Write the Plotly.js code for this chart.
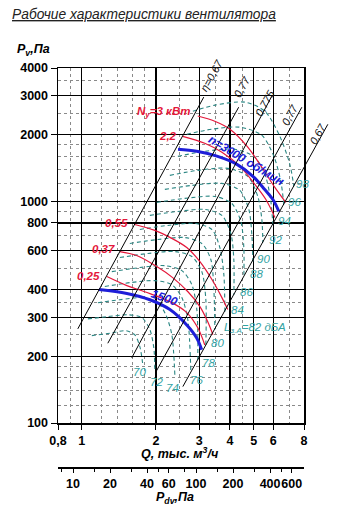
<!DOCTYPE html>
<html><head><meta charset="utf-8">
<script src="https://cdn.plot.ly/plotly-3.0.1.min.js"></script>
<style>body{margin:0;background:#fff}#chart{width:346px;height:512px}</style>
</head><body><div id="chart"></div>
<script>
// ---------- axes / ticks ----------
const QTICK = [0.8, 1, 2, 3, 4, 5, 6, 8];
const QTEXT = ['0,8', '1', '2', '3', '4', '5', '6', '8'];
const QMINOR = [0.9, 1.2, 1.4, 1.6, 1.8, 2.5, 3.5, 4.5, 7];
const PTICK = [100, 200, 300, 400, 600, 800, 1000, 2000, 3000, 4000];
const PMINOR = [120, 140, 160, 180, 250, 350, 500, 700, 900, 1200, 1400, 1600, 1800, 2500, 3500];
const PDVTICK = [10, 20, 40, 60, 100, 200, 400, 600];
const PDVMINOR = [8, 15, 30, 50, 80, 150, 300, 500];
const PDV_PER_Q2 = 11.8; // Pdv = k*Q^2 relation of second scale

// ---------- fan curves ----------
const N3000_Q = [2.46, 2.93, 3.54, 4.27, 4.96, 5.54, 5.98, 6.32];
const N3000_P = [1718, 1683, 1600, 1469, 1297, 1132, 1020, 902];
const N1500_Q = [1.173, 1.524, 1.89, 2.28, 2.67, 2.93, 3.07];
const N1500_P = [400, 384, 360, 325, 277, 242, 214];

// ---------- power lines ----------
const PW3_Q = [2.96, 3.47, 4.0, 4.69, 5.39, 6.09, 6.75];
const PW3_P = [2428, 2300, 2117, 1775, 1426, 1157, 989];
const PW22_Q = [2.57, 3.16, 3.71, 4.39, 5.05, 5.60, 6.09];
const PW22_P = [1967, 1830, 1666, 1440, 1194, 1020, 847];
const PW055_Q = [1.64, 1.98, 2.28, 2.67, 3.02, 3.38, 3.71, 3.92];
const PW055_P = [787, 740, 688, 619, 535, 444, 368, 325];
const PW037_Q = [1.427, 1.67, 2.016, 2.34, 2.70, 3.02, 3.25, 3.41];
const PW037_P = [594, 570, 508, 453, 391, 335, 286, 250];
const PW025_Q = [1.264, 1.524, 1.80, 2.28, 2.67, 2.96, 3.16];
const PW025_P = [458, 417, 391, 353, 315, 269, 225];
const PW_TEXT = ['N<sub>у</sub>=3 кВт', '2,2', '0,55', '0,37', '0,25'];
const PW_LQ = [2.80, 2.48, 1.567, 1.388, 1.206];
const PW_LP = [2527, 1968, 795, 607, 463];

// ---------- efficiency lines (start / end) ----------
const ETA_Q0 = [0.963, 1.275, 1.596, 2.0, 2.574];
const ETA_P0 = [266, 229, 197, 170, 146];
const ETA_Q1 = [3.13, 4.34, 5.92, 7.84, 10.0];
const ETA_P1 = [2955, 2661, 2986, 2661, 2228];
const ETA_TEXT = ['η=0,67', '0,77', '0,775', '0,77', '0,67'];
const ETA_LQ = [3.377, 4.47, 5.546, 7.006, 9.106];
const ETA_LP = [3715, 3280, 2776, 2449, 2010];

// ---------- noise contours L (dBA) ----------
const L70_Q = [1.098, 1.324, 1.510, 1.642, 1.721, 1.770];
const L70_P = [248, 255, 261, 250, 221, 183];
const L72_Q = [1.058, 1.276, 1.538, 1.754, 1.890, 1.962, 1.980];
const L72_P = [295, 302, 308, 299, 264, 218, 174];
const L74_Q = [1.162, 1.427, 1.754, 2.018, 2.195, 2.322, 2.388];
const L74_P = [349, 360, 368, 353, 308, 250, 165];
const L76_Q = [1.240, 1.567, 1.980, 2.322, 2.550, 2.697, 2.774];
const L76_P = [413, 430, 439, 421, 368, 292, 170];
const L78_Q = [1.324, 1.721, 2.175, 2.550, 2.800, 2.934, 2.961];
const L78_P = [482, 503, 513, 487, 421, 325, 193];
const L80_Q = [1.427, 1.855, 2.388, 2.800, 3.074, 3.192, 3.192];
const L80_P = [558, 582, 594, 564, 482, 360, 225];
const L82_Q = [1.567, 2.037, 2.623, 3.074, 3.345, 3.441, 3.473];
const L82_P = [646, 673, 687, 646, 547, 400, 264];
const L84_Q = [1.721, 2.236, 2.879, 3.377, 3.639, 3.778, 3.814];
const L84_P = [747, 779, 795, 747, 619, 468, 318];
const L86_Q = [1.890, 2.456, 3.162, 3.708, 4.034, 4.148, 4.148];
const L86_P = [865, 901, 920, 865, 716, 547, 379];
const L88_Q = [2.018, 2.623, 3.473, 4.072, 4.429, 4.555, 4.555];
const L88_P = [990, 1032, 1053, 979, 812, 619, 453];
const L90_Q = [2.175, 2.800, 3.708, 4.388, 4.774, 4.910, 4.956];
const L90_P = [1133, 1181, 1206, 1121, 920, 709, 535];
const L92_Q = [2.279, 2.961, 3.922, 4.729, 5.193, 5.392, 5.443];
const L92_P = [1311, 1381, 1410, 1297, 1053, 829, 652];
const L94_Q = [2.456, 3.162, 4.188, 5.049, 5.597, 5.866, 5.976];
const L94_P = [1598, 1683, 1719, 1582, 1284, 1000, 787];
const L96_Q = [2.672, 3.377, 4.388, 5.392, 6.033, 6.440, 6.623];
const L96_P = [2010, 2118, 2162, 1989, 1598, 1232, 969];
const L98_Q = [2.827, 3.473, 4.598, 5.546, 6.381, 7.006, 7.276];
const L98_P = [2554, 2719, 2805, 2554, 1968, 1470, 1169];
const L_TEXT = ['70', '72', '74', '76', '78', '80', 'L<sub>з.А</sub>=82 дБА', '84', '86', '88', '90', '92', '94', '96', '98'];
const L_LQ = [1.721, 2.018, 2.344, 2.934, 3.282, 3.571, 3.708, 4.306, 4.69, 5.145, 5.49, 6.15, 6.69, 7.34, 7.91];
const L_LP = [170, 153, 144, 157, 187, 230, 269, 325, 392, 468, 547, 673, 812, 990, 1194];

// ---------- build ----------
const FONT = 'Liberation Sans, Arial, sans-serif';
const RED = '#e4173a', BLUE = '#1e1ed8', TEAL = '#2a8683', TEALT = '#33a3a3';
const traces = [];
const noise = [[L70_Q,L70_P],[L72_Q,L72_P],[L74_Q,L74_P],[L76_Q,L76_P],[L78_Q,L78_P],[L80_Q,L80_P],[L82_Q,L82_P],[L84_Q,L84_P],[L86_Q,L86_P],[L88_Q,L88_P],[L90_Q,L90_P],[L92_Q,L92_P],[L94_Q,L94_P],[L96_Q,L96_P],[L98_Q,L98_P]];
noise.forEach(([q,p]) => traces.push({x:q, y:p, mode:'lines', line:{color:TEAL, width:1.1, dash:'4px,3px', shape:'spline', smoothing:0.8}, hoverinfo:'skip'}));
[[PW3_Q,PW3_P],[PW22_Q,PW22_P],[PW055_Q,PW055_P],[PW037_Q,PW037_P],[PW025_Q,PW025_P]].forEach(([q,p]) =>
  traces.push({x:q, y:p, mode:'lines', line:{color:RED, width:1.2, shape:'spline'}, hoverinfo:'skip'}));
[[N3000_Q,N3000_P],[N1500_Q,N1500_P]].forEach(([q,p]) =>
  traces.push({x:q, y:p, mode:'lines', line:{color:BLUE, width:3, shape:'spline'}, hoverinfo:'skip'}));
// dummy (invisible) trace to instantiate the Pdv scale
traces.push({x:PDVTICK, y:PDVTICK.map(()=>150), xaxis:'x2', yaxis:'y', mode:'markers', marker:{opacity:0}, hoverinfo:'skip'});
// efficiency lines on the extended (same-scale) axes
ETA_Q0.forEach((q0,i) => traces.push({x:[q0, ETA_Q1[i]], y:[ETA_P0[i], ETA_P1[i]], xaxis:'x3', yaxis:'y3', mode:'lines', line:{color:'#000', width:1}, hoverinfo:'skip'}));

const L = Math.log10;
const ann = [];
const paperX = px => (px - 58) / 278, paperY = py => (482 - py) / 414;
ann.push({xref:'paper', yref:'paper', x:paperX(10), y:paperY(14), xanchor:'left', yanchor:'middle', text:'<u>Рабочие характеристики вентилятора</u>', showarrow:false, font:{family:FONT, size:13.8, style:'italic', color:'#222'}});
ann.push({xref:'paper', yref:'paper', x:paperX(15), y:paperY(50), xanchor:'left', yanchor:'middle', text:'P<sub>v</sub>,Па', showarrow:false, font:{family:FONT, size:12.5, style:'italic', weight:'bold', color:'#000'}});
ann.push({xref:'paper', yref:'paper', x:paperX(180), y:paperY(453), xanchor:'center', yanchor:'middle', text:'Q, тыс. м<sup>3</sup>/ч', showarrow:false, font:{family:FONT, size:12.5, style:'italic', weight:'bold', color:'#000'}});
ann.push({xref:'paper', yref:'paper', x:paperX(175), y:paperY(498), xanchor:'center', yanchor:'middle', text:'P<sub>dv</sub>,Па', showarrow:false, font:{family:FONT, size:12.5, style:'italic', weight:'bold', color:'#000'}});
PW_TEXT.forEach((t,i) => ann.push({xref:'x', yref:'y', x:L(PW_LQ[i]), y:L(PW_LP[i]), xanchor:'right', yanchor:'middle', text:t, showarrow:false, font:{family:FONT, size:11.5, style:'italic', weight:'bold', color:RED}}));
ann.push({xref:'x', yref:'y', x:L(4.69), y:L(1517), text:'n=3000 об/мин', textangle:31, showarrow:false, font:{family:FONT, size:12, style:'italic', weight:'bold', color:BLUE}});
ann.push({xref:'x', yref:'y', x:L(2.175), y:L(368), text:'1500', textangle:20, showarrow:false, font:{family:FONT, size:12, style:'italic', weight:'bold', color:BLUE}});
L_TEXT.forEach((t,i) => ann.push({xref:'x', yref:'y', x:L(L_LQ[i]), y:L(L_LP[i]), xanchor: i===6 ? 'left' : 'center', yanchor:'middle', text:t, showarrow:false, font:{family:FONT, size:11.5, style:'italic', color:TEALT}}));
ETA_TEXT.forEach((t,i) => ann.push({xref:'x3', yref:'y3', x:L(ETA_LQ[i]), y:L(ETA_LP[i]), text:t, textangle:-61, showarrow:false, font:{family:FONT, size:11, style:'italic', color:'#111'}}));

const tickFont = {family:FONT, size:12.5, weight:'bold', color:'#000'};
const layout = {
  width:346, height:512, margin:{l:58, r:10, t:68, b:30},
  paper_bgcolor:'#fff', plot_bgcolor:'rgba(0,0,0,0)', showlegend:false,
  xaxis:{type:'log', domain:[0, 246/278], range:[L(0.8), L(8)], tickmode:'array', tickvals:QTICK, ticktext:QTEXT, tickangle:0,
    ticks:'outside', ticklen:5, tickcolor:'#000', tickfont:tickFont, showline:true, linecolor:'#000', linewidth:1.5, mirror:true,
    showgrid:true, gridcolor:'#000', gridwidth:1.3, zeroline:false, anchor:'y',
    minor:{tickmode:'array', tickvals:QMINOR, showgrid:true, gridcolor:'#8a8a8a', griddash:'dot', gridwidth:1, ticks:''}},
  yaxis:{type:'log', domain:[59/414, 1], range:[2, L(4000)], tickmode:'array', tickvals:PTICK, ticktext:PTICK.map(String),
    ticks:'outside', ticklen:6, tickcolor:'#000', tickfont:tickFont, showline:true, linecolor:'#000', linewidth:1.5, mirror:true,
    showgrid:true, gridcolor:'#000', gridwidth:1.3, zeroline:false, anchor:'x',
    minor:{tickmode:'array', tickvals:PMINOR, showgrid:true, gridcolor:'#8a8a8a', griddash:'dot', gridwidth:1, ticks:''}},
  xaxis2:{type:'log', overlaying:'x', anchor:'free', position:15/414, side:'bottom', tickangle:0,
    range:[L(PDV_PER_Q2*0.64), L(PDV_PER_Q2*64)], tickmode:'array', tickvals:PDVTICK, ticktext:PDVTICK.map(String),
    ticks:'outside', ticklen:4, tickcolor:'#000', tickfont:tickFont, showline:true, linecolor:'#000', linewidth:1.5, showgrid:false, zeroline:false,
    minor:{tickmode:'array', tickvals:PDVMINOR, ticks:'outside', ticklen:3, tickcolor:'#000', showgrid:false}},
  xaxis3:{type:'log', domain:[0,1], range:[L(0.8), L(0.8)+278/246], visible:false, anchor:'y3'},
  yaxis3:{type:'log', domain:[59/414, 1], range:[2, L(4000)], visible:false, anchor:'x3'},
  annotations: ann
};
Plotly.newPlot('chart', traces, layout, {staticPlot:true, displayModeBar:false});
</script></body></html>
